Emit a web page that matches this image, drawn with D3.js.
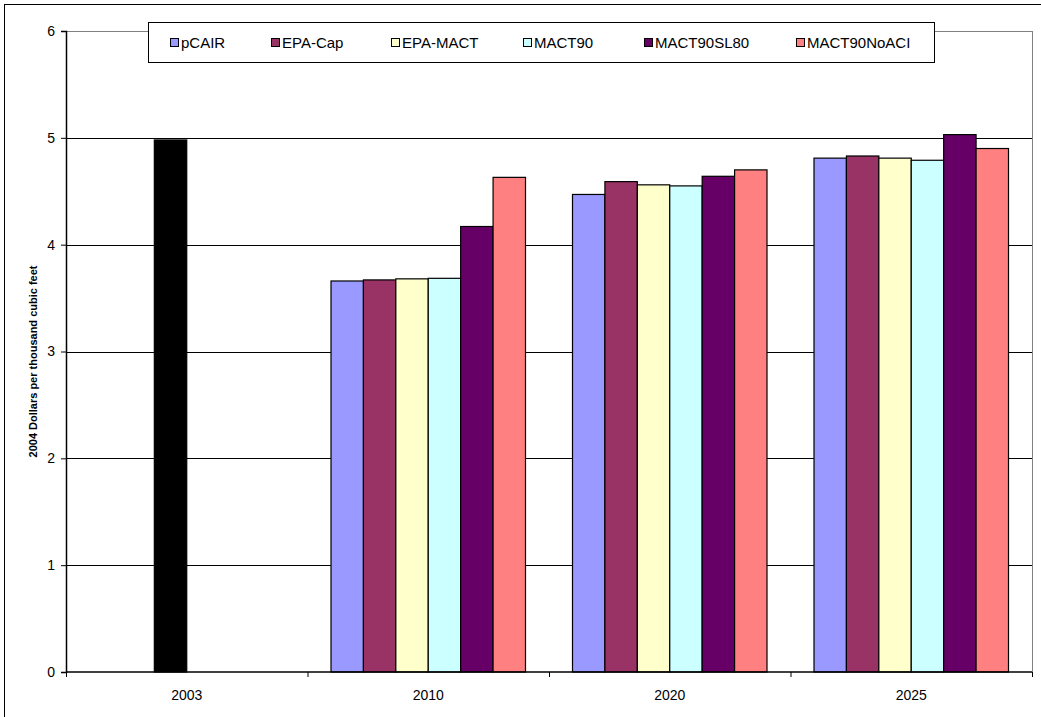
<!DOCTYPE html>
<html>
<head>
<meta charset="utf-8">
<script src="https://cdn.jsdelivr.net/npm/d3@7"></script>
<style>
  body { margin: 0; background: #fff; }
  svg { display: block; font-family: Arial, "Liberation Sans", sans-serif; }
</style>
</head>
<body>
<svg id="chart"></svg>
<script>
// categories and series
const years = ['2003', '2010', '2020', '2025'];
const seriesNames = ['pCAIR', 'EPA-Cap', 'EPA-MACT', 'MACT90', 'MACT90SL80', 'MACT90NoACI'];
const seriesColors = ['#9999ff', '#993366', '#ffffcc', '#ccffff', '#660066', '#ff8080'];

// values per series, aligned with years (null = no bar)
const pCAIR       = [null, 3.66, 4.47, 4.81];
const epaCap      = [null, 3.67, 4.59, 4.83];
const epaMact     = [4.98, 3.68, 4.56, 4.81];   // 2003 history point sits in this series (drawn black)
const mact90      = [null, 3.685, 4.55, 4.79];
const mact90SL80  = [null, 4.17, 4.64, 5.03];
const mact90NoACI = [null, 4.63, 4.70, 4.90];

const yTicks = [0, 1, 2, 3, 4, 5, 6];
const historyYear = '2003';
const historyColor = '#000000';

const seriesValues = [pCAIR, epaCap, epaMact, mact90, mact90SL80, mact90NoACI];

const width = 1041, height = 717;
const margin = { top: 31, right: 9, bottom: 45, left: 66 };

const svg = d3.select('#chart')
    .attr('width', width)
    .attr('height', height);

// outer chart border (runs off the right and bottom edge)
svg.append('rect')
    .attr('x', 4.5).attr('y', 4.5)
    .attr('width', 1100).attr('height', 800)
    .attr('fill', 'none')
    .attr('stroke', '#000')
    .attr('stroke-width', 1);

const innerW = width - margin.left - margin.right;
const innerH = height - margin.top - margin.bottom;

const g = svg.append('g')
    .attr('transform', `translate(${margin.left},${margin.top})`);

const x0 = d3.scaleBand()
    .domain(years)
    .range([0, innerW])
    .padding(0);

const x1 = d3.scaleBand()
    .domain(seriesNames)
    .range([0, x0.bandwidth()])
    .paddingInner(0)
    .paddingOuter(0.725);

const y = d3.scaleLinear()
    .domain([0, 6])
    .range([innerH, 0]);

// gridlines
g.append('g')
    .selectAll('line')
    .data(yTicks.filter(d => d > 0))
    .join('line')
    .attr('x1', 0).attr('x2', innerW)
    .attr('y1', d => Math.round(y(d)) + 0.5)
    .attr('y2', d => Math.round(y(d)) + 0.5)
    .attr('stroke', d => d === 6 ? '#808080' : '#000')
    .attr('stroke-width', 1);

// plot area right border
g.append('line')
    .attr('x1', innerW + 0.5).attr('x2', innerW + 0.5)
    .attr('y1', 0).attr('y2', innerH)
    .attr('stroke', '#808080');

// flatten into bar records
const bars = [];
years.forEach((yr, i) => {
    seriesNames.forEach((s, j) => {
        const v = seriesValues[j][i];
        if (v != null) bars.push({ year: yr, series: s, value: v, color: yr === historyYear ? historyColor : seriesColors[j] });
    });
});

g.append('g')
    .selectAll('rect')
    .data(bars)
    .join('rect')
    .attr('x', d => x0(d.year) + x1(d.series))
    .attr('y', d => y(d.value))
    .attr('width', x1.bandwidth())
    .attr('height', d => innerH - y(d.value))
    .attr('fill', d => d.color)
    .attr('stroke', '#000')
    .attr('stroke-width', 1.2);

// y axis
const yAxis = g.append('g')
    .call(d3.axisLeft(y).tickValues(yTicks).tickSize(5).tickPadding(6).tickFormat(d3.format('d')));
yAxis.select('.domain').attr('stroke', '#000').attr('stroke-width', 1.5);
yAxis.selectAll('.tick line').attr('stroke', '#000');
yAxis.selectAll('text').attr('font-size', 14).attr('fill', '#000').attr('font-family', 'Arial, "Liberation Sans", sans-serif');

// x axis, ticks at category boundaries
const xAxis = g.append('g')
    .attr('transform', `translate(0,${innerH})`);
xAxis.append('line')
    .attr('x1', 0).attr('x2', innerW)
    .attr('y1', 0).attr('y2', 0)
    .attr('stroke', '#000').attr('stroke-width', 1.5);
xAxis.selectAll('.bound')
    .data(years.map(d => x0(d)).concat([innerW]))
    .join('line')
    .attr('class', 'bound')
    .attr('x1', d => d + 0.5).attr('x2', d => d + 0.5)
    .attr('y1', 0).attr('y2', 5)
    .attr('stroke', '#000');
xAxis.selectAll('text')
    .data(years)
    .join('text')
    .attr('x', d => x0(d) + x0.bandwidth() / 2)
    .attr('y', 28)
    .attr('text-anchor', 'middle')
    .attr('font-size', 14)
    .text(d => d);

// y label
svg.append('text')
    .attr('transform', `translate(37,${margin.top + innerH / 2 + 10}) rotate(-90)`)
    .attr('text-anchor', 'middle')
    .attr('font-size', 11)
    .attr('font-weight', 'bold')
    .text('2004 Dollars per thousand cubic feet');

// legend
const legend = svg.append('g').attr('transform', 'translate(148,22)');
legend.append('rect')
    .attr('x', 0.5).attr('y', 0.5)
    .attr('width', 786).attr('height', 40)
    .attr('fill', '#fff')
    .attr('stroke', '#000');

const legendX = [22, 123, 243, 375, 496, 648];
const items = legend.selectAll('.item')
    .data(seriesNames)
    .join('g')
    .attr('class', 'item')
    .attr('transform', (d, i) => `translate(${legendX[i]},0)`);
items.append('rect')
    .attr('x', 0.5).attr('y', 16.5)
    .attr('width', 8).attr('height', 8)
    .attr('fill', (d, i) => seriesColors[i])
    .attr('stroke', '#000');
items.append('text')
    .attr('x', 11)
    .attr('y', 26)
    .attr('font-size', 15)
    .text(d => d);
</script>
</body>
</html>
